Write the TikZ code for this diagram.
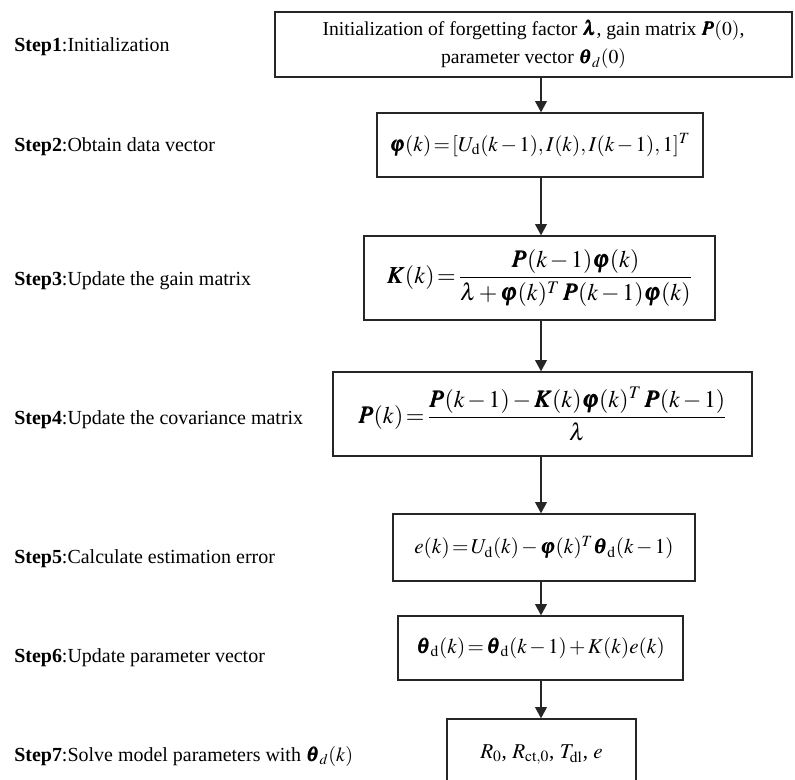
\documentclass[tikz,border=0pt]{standalone}
\usepackage{amsmath}
\usepackage{mathptmx}
\usepackage{bm}
\usepackage{fontspec}
\setmainfont{Liberation Serif}
\usetikzlibrary{arrows.meta}
\tikzset{
  box/.style={draw=black!85, line width=1pt, inner sep=0pt, align=center, font=\fontsize{15}{18}\selectfont},
  bigbox/.style={box, font=\fontsize{17}{20}\selectfont},
  steplabel/.style={anchor=base west, inner sep=0pt, font=\fontsize{14.2}{16}\selectfont},
  flow/.style={draw=black!85, line width=0.8pt, -{Triangle[length=8pt,width=8.5pt]}}
}
\newcommand{\tightmath}{\thickmuskip=2mu plus 1mu\medmuskip=2mu plus 1mu}
\begin{document}
\begin{tikzpicture}[x=0.025cm, y=-0.025cm]
\useasboundingbox (0,0) rectangle (795,780);
% boxes
\node[box, minimum width=12.925cm, minimum height=1.625cm, font=\fontsize{14}{20}\selectfont] (b1) at (533.5,44.5)
  {Initialization of forgetting factor $\bm{\lambda}$, gain matrix $\bm{P}(0)$,\\ parameter vector $\bm{\theta}_{d}(0)$};
\node[box, minimum width=8.15cm, minimum height=1.6cm] (b2) at (540,145)
  {\tightmath$\bm{\varphi}(k)=[U_{\mathrm{d}}(k-1),I(k),I(k-1),1]^{T}$};
\node[bigbox, minimum width=8.775cm, minimum height=2.1cm] (b3) at (539.5,278)
  {\tightmath$\bm{K}(k)=\dfrac{\bm{P}(k-1)\bm{\varphi}(k)}{\lambda+\bm{\varphi}(k)^{T}\,\bm{P}(k-1)\bm{\varphi}(k)}$};
\node[bigbox, minimum width=10.475cm, minimum height=2.1cm] (b4) at (542.5,414)
  {\tightmath$\bm{P}(k)=\dfrac{\bm{P}(k-1)-\bm{K}(k)\bm{\varphi}(k)^{T}\,\bm{P}(k-1)}{\lambda}$};
\node[box, minimum width=7.55cm, minimum height=1.675cm] (b5) at (544,547.5)
  {\tightmath$e(k)=U_{\mathrm{d}}(k)-\bm{\varphi}(k)^{T}\bm{\theta}_{\mathrm{d}}(k-1)$};
\node[box, minimum width=7.125cm, minimum height=1.6cm] (b6) at (540.5,648)
  {\tightmath$\bm{\theta}_{\mathrm{d}}(k)=\bm{\theta}_{\mathrm{d}}(k-1)+K(k)e(k)$};
\node[box, minimum width=4.725cm, minimum height=1.8cm] (b7) at (541.5,755)
  {$R_{0}$, $R_{\mathrm{ct},0}$, $T_{\mathrm{dl}}$, $e$};
% arrows
\coordinate (ax) at (541,0);
\draw[flow] (b1.south -| ax) -- (b2.north -| ax);
\draw[flow] (b2.south -| ax) -- (b3.north -| ax);
\draw[flow] (b3.south -| ax) -- (b4.north -| ax);
\draw[flow] (b4.south -| ax) -- (b5.north -| ax);
\draw[flow] (b5.south -| ax) -- (b6.north -| ax);
\draw[flow] (b6.south -| ax) -- (b7.north -| ax);
% step labels
\node[steplabel] (s1) at (14,52) {\textbf{Step1}:Initialization};
\node[steplabel] (s2) at (14,152) {\textbf{Step2}:Obtain data vector};
\node[steplabel] (s3) at (14,286) {\textbf{Step3}:Update the gain matrix};
\node[steplabel] (s4) at (14,425) {\textbf{Step4}:Update the covariance matrix};
\node[steplabel] (s5) at (14,563) {\textbf{Step5}:Calculate estimation error};
\node[steplabel] (s6) at (14,662) {\textbf{Step6}:Update parameter vector};
\node[steplabel] (s7) at (14,761) {\textbf{Step7}:Solve model parameters with $\bm{\theta}_{d}(k)$};
\end{tikzpicture}
\end{document}
